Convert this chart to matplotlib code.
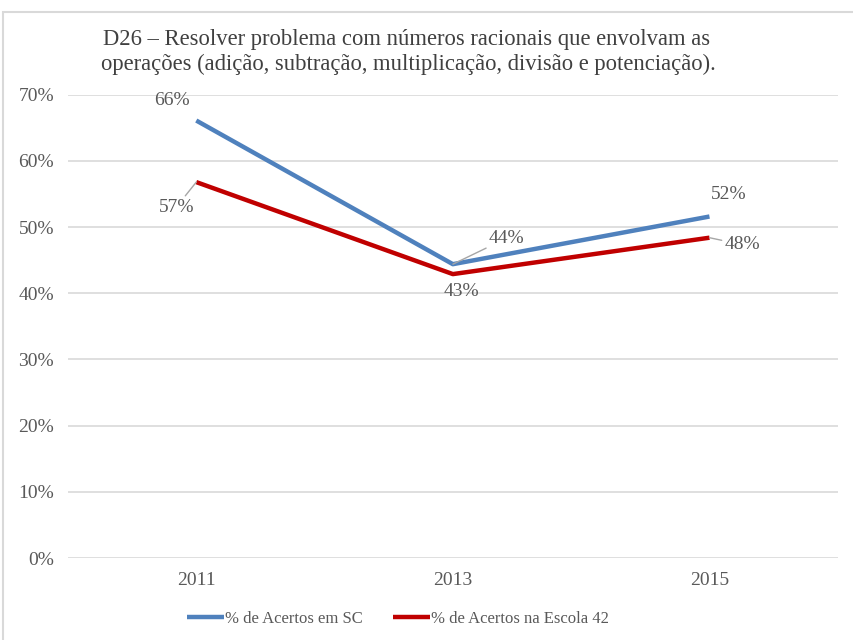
import matplotlib.pyplot as plt
from matplotlib.patches import Rectangle

plt.rcParams['font.family'] = ['Liberation Serif', 'DejaVu Serif']

anos = ['2011', '2013', '2015']
acertos_sc = [66.1, 44.4, 51.6]
acertos_escola = [56.8, 42.9, 48.4]
yticks = [0, 10, 20, 30, 40, 50, 60, 70]

azul = '#4F81BD'
vermelho = '#C00000'
cinza = '#595959'

fig = plt.figure(figsize=(8.54, 6.4), dpi=100)
ax = fig.add_axes([0.0796, 0.128, 0.9014, 0.724])

x = list(range(len(anos)))
ax.plot(x, acertos_sc, color=azul, lw=3.2, solid_capstyle='butt', label='% de Acertos em SC')
ax.plot(x, acertos_escola, color=vermelho, lw=3.2, solid_capstyle='butt', label='% de Acertos na Escola 42')

ax.set_xlim(-0.5, 2.5)
ax.set_ylim(0, 70)
ax.set_xticks(x)
ax.set_xticklabels(anos)
ax.set_yticks(yticks)
ax.set_yticklabels([f'{v}%' for v in yticks])
ax.tick_params(length=0, labelsize=14, colors=cinza, pad=10)
ax.tick_params(axis='x', pad=10)
ax.grid(axis='y', color='#D9D9D9', lw=1.2)
ax.set_axisbelow(True)
for s in ax.spines.values():
    s.set_visible(False)

# rótulos de dados (deslocamento em pixels, com ou sem linha guia)
def rotulo(i, v, dx, dy, guia=False, ha='center'):
    props = dict(arrowstyle='-', color='#A6A6A6', lw=1, shrinkA=0, shrinkB=0) if guia else None
    ax.annotate(f'{v:.0f}%', xy=(i, v), xytext=(dx, dy), textcoords='offset pixels',
                ha=ha, va='center', fontsize=14, color=cinza, arrowprops=props)

rotulo(0, acertos_sc[0], -24, 20)
rotulo(1, acertos_sc[1], 36, 26, guia=True, ha='left')
rotulo(2, acertos_sc[2], 19, 22)
rotulo(0, acertos_escola[0], -20, -25, guia=True)
rotulo(1, acertos_escola[1], 9, -17)
rotulo(2, acertos_escola[2], 15, -7, guia=True, ha='left')

fig.text(0.476, 0.939, 'D26 – Resolver problema com números racionais que envolvam as',
         ha='center', va='center', fontsize=16.3, color='#404040')
fig.text(0.478, 0.900, 'operações (adição, subtração, multiplicação, divisão e potenciação).',
         ha='center', va='center', fontsize=16.3, color='#404040')

ax.legend(loc='center', bbox_to_anchor=(0.4286, -0.131), ncol=2, frameon=False,
          fontsize=12, labelcolor=cinza, handlelength=2.2, handletextpad=0.05,
          columnspacing=1.85)

# moldura da área do gráfico
fig.patches.append(Rectangle((3 / 854, -0.1), 1.0, 1.081,
                             transform=fig.transFigure, fill=False,
                             edgecolor='#D9D9D9', lw=1.5))

fig.savefig('out.png', dpi=100)
